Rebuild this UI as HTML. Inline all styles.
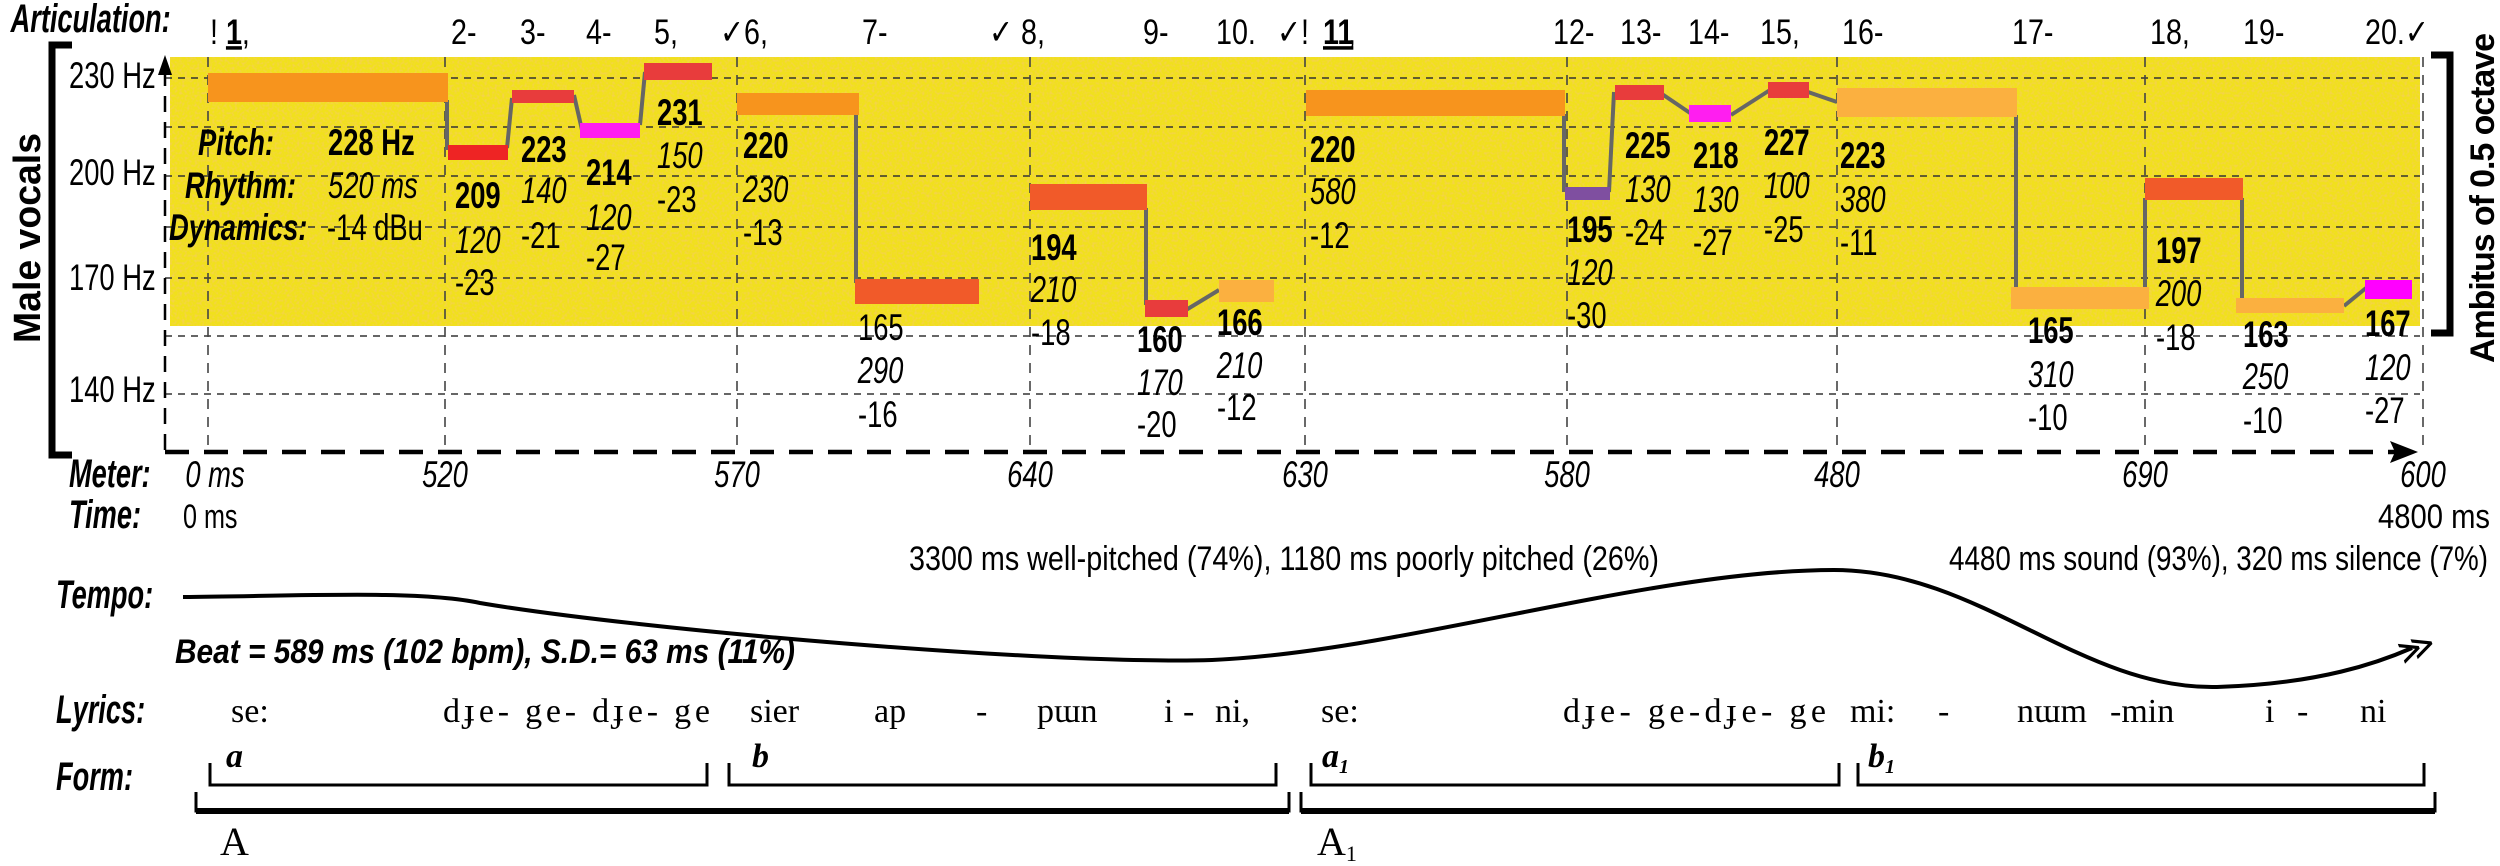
<!DOCTYPE html>
<html><head><meta charset="utf-8"><style>
html,body{margin:0;padding:0;background:#fff;}
svg{display:block;}
.n{font-family:"Liberation Sans Narrow","Liberation Sans",sans-serif;font-size:37px;fill:#000;}
.b{font-weight:bold;}
.i{font-style:italic;}
.a{font-family:"Liberation Sans",sans-serif;font-size:35px;fill:#000;}
.lab{font-family:"Liberation Sans Narrow","Liberation Sans",sans-serif;font-size:40px;font-weight:bold;font-style:italic;fill:#000;}
.s{font-family:"Liberation Serif",serif;font-size:34px;fill:#000;}
.c text,text.c{transform-box:fill-box;transform-origin:0 50%;transform:scaleX(0.74);}
text.lab.c{transform:scaleX(0.68);}
.cm text{transform-box:fill-box;transform-origin:50% 50%;transform:scaleX(0.74);}
.ca text{transform-box:fill-box;transform-origin:0 50%;transform:scaleX(0.82);}
</style></head><body>
<svg width="2500" height="866" viewBox="0 0 2500 866" xmlns="http://www.w3.org/2000/svg">
<defs>
<filter id="nz" x="0" y="0" width="100%" height="100%">
<feTurbulence type="fractalNoise" baseFrequency="0.4" numOctaves="1" seed="3" result="t"/>
<feColorMatrix in="t" type="matrix" values="0 0 0 0 0.93  0 0 0 0 0.6  0 0 0 0 0.15  0 0 0 3 -1.3"/>
</filter>
</defs>
<rect x="170" y="57" width="2250" height="269" fill="#f1e01c"/>
<rect x="170" y="57" width="2250" height="269" filter="url(#nz)" opacity="0.6"/>
<g stroke="#333" stroke-width="1.6" stroke-dasharray="7,6">
<line x1="165" y1="78" x2="2420" y2="78"/><line x1="165" y1="127" x2="2420" y2="127"/>
<line x1="165" y1="176" x2="2420" y2="176"/><line x1="165" y1="227" x2="2420" y2="227"/>
<line x1="165" y1="278" x2="2420" y2="278"/><line x1="165" y1="336" x2="2420" y2="336"/>
<line x1="165" y1="394" x2="2420" y2="394"/>
</g>
<g stroke="#444" stroke-width="1.6" stroke-dasharray="10,8">
<line x1="208" y1="57" x2="208" y2="450"/><line x1="445" y1="57" x2="445" y2="450"/>
<line x1="737" y1="57" x2="737" y2="450"/><line x1="1030" y1="57" x2="1030" y2="450"/>
<line x1="1305" y1="57" x2="1305" y2="450"/><line x1="1567" y1="57" x2="1567" y2="450"/>
<line x1="1837" y1="57" x2="1837" y2="450"/><line x1="2145" y1="57" x2="2145" y2="450"/>
<line x1="2423" y1="57" x2="2423" y2="450"/>
</g>
<line x1="165" y1="450" x2="165" y2="62" stroke="#000" stroke-width="2.5" stroke-dasharray="16,10"/>
<polygon points="165,55 158,75 172,75" fill="#000"/>
<line x1="165" y1="452" x2="2395" y2="452" stroke="#000" stroke-width="4.5" stroke-dasharray="24,15"/>
<polygon points="2418,452 2390,441 2395,452 2390,463" fill="#000"/>
<g stroke="#666" stroke-width="4" fill="none">
<polyline points="447,100 447,150"/><polyline points="507,148 512,98"/><polyline points="574,95 582,130"/>
<polyline points="640,125 645,72"/><polyline points="856,112 856,283"/><polyline points="1146,208 1146,305"/>
<polyline points="1186,310 1219,290"/><polyline points="1564,114 1564,192"/><polyline points="1609,192 1614,92"/>
<polyline points="1662,94 1693,115"/><polyline points="1731,115 1770,90"/><polyline points="1808,92 1837,102"/>
<polyline points="2016,115 2016,288"/><polyline points="2145,290 2145,198"/><polyline points="2242,198 2242,300"/>
<polyline points="2344,306 2366,288"/>
</g>
<rect x="208" y="73" width="240" height="29" fill="#f7941d"/>
<rect x="448" y="145" width="60" height="15" fill="#ee2424"/>
<rect x="512" y="90" width="62" height="13" fill="#e83c3c"/>
<rect x="580" y="123" width="60" height="15" fill="#ff1ef0"/>
<rect x="644" y="63" width="68" height="17" fill="#e83c3c"/>
<rect x="737" y="93" width="122" height="22" fill="#f7941d"/>
<rect x="855" y="279" width="124" height="25" fill="#f15a29"/>
<rect x="1030" y="184" width="117" height="26" fill="#f15a29"/>
<rect x="1145" y="300" width="43" height="17" fill="#e83c3c"/>
<rect x="1219" y="280" width="55" height="22" fill="#fbb040"/>
<rect x="1306" y="90" width="259" height="26" fill="#f7941d"/>
<rect x="1565" y="187" width="45" height="13" fill="#7f4fa0"/>
<rect x="1615" y="85" width="49" height="15" fill="#e83c3c"/>
<rect x="1689" y="105" width="42" height="17" fill="#ff1ef0"/>
<rect x="1768" y="82" width="41" height="16" fill="#e83c3c"/>
<rect x="1837" y="88" width="180" height="29" fill="#fbb040"/>
<rect x="2011" y="287" width="138" height="22" fill="#fbb040"/>
<rect x="2145" y="178" width="98" height="22" fill="#f15a29"/>
<rect x="2236" y="298" width="108" height="15" fill="#fbb040"/>
<rect x="2365" y="280" width="47" height="19" fill="#ff00ff"/>
<g class="n c"><text x="69" y="88">230 Hz</text><text x="69" y="185">200 Hz</text><text x="69" y="290">170 Hz</text><text x="69" y="402">140 Hz</text></g>
<path d="M72,45 H52 V455 H72" stroke="#000" stroke-width="7" fill="none"/>
<text x="0" y="0" transform="translate(40,238) rotate(-90)" text-anchor="middle" font-family="Liberation Sans,sans-serif" font-weight="bold" font-size="38" textLength="210" lengthAdjust="spacingAndGlyphs">Male vocals</text>
<path d="M2431,55 H2450 V333 H2431" stroke="#000" stroke-width="7" fill="none"/>
<text x="0" y="0" transform="translate(2494,198) rotate(-90)" text-anchor="middle" font-family="Liberation Sans,sans-serif" font-weight="bold" font-size="34" textLength="330" lengthAdjust="spacing">Ambitus  of  0.5  octave</text>
<text class="lab c" x="11" y="32">Articulation:</text>
<g class="a ca">
<text x="210" y="44">! <tspan font-weight="bold" text-decoration="underline">1</tspan>,</text>
<text x="451" y="44">2-</text><text x="520" y="44">3-</text><text x="586" y="44">4-</text><text x="654" y="44">5,</text>
<text x="720" y="44">✓6,</text><text x="862" y="44">7-</text><text x="989" y="44">✓ 8,</text><text x="1143" y="44">9-</text>
<text x="1216" y="44">10.</text><text x="1277" y="44">✓!</text><text x="1323" y="44" font-weight="bold" text-decoration="underline">11</text><text x="1348" y="44">,</text>
<text x="1553" y="44">12-</text><text x="1620" y="44">13-</text><text x="1688" y="44">14-</text><text x="1760" y="44">15,</text>
<text x="1842" y="44">16-</text><text x="2012" y="44">17-</text><text x="2150" y="44">18,</text><text x="2243" y="44">19-</text>
<text x="2365" y="44">20.✓</text>
</g>
<g class="n c">
<text class="b i" x="198" y="155">Pitch:</text><text class="b" x="328" y="155">228 Hz</text>
<text class="b i" x="185" y="198">Rhythm:</text><text class="i" x="328" y="198">520 ms</text>
<text class="b i" x="169" y="240">Dynamics:</text><text x="327" y="240">-14 dBu</text>
<text class="b" x="455" y="208">209</text><text class="i" x="455" y="253">120</text><text x="455" y="295">-23</text>
<text class="b" x="521" y="162">223</text><text class="i" x="521" y="203">140</text><text x="521" y="248">-21</text>
<text class="b" x="586" y="185">214</text><text class="i" x="586" y="230">120</text><text x="586" y="270">-27</text>
<text class="b" x="657" y="125">231</text><text class="i" x="657" y="168">150</text><text x="657" y="212">-23</text>
<text class="b" x="743" y="158">220</text><text class="i" x="743" y="202">230</text><text x="743" y="245">-13</text>
<text x="858" y="340">165</text><text class="i" x="858" y="383">290</text><text x="858" y="427">-16</text>
<text class="b" x="1031" y="260">194</text><text class="i" x="1031" y="302">210</text><text x="1031" y="345">-18</text>
<text class="b" x="1137" y="352">160</text><text class="i" x="1137" y="395">170</text><text x="1137" y="437">-20</text>
<text class="b" x="1217" y="335">166</text><text class="i" x="1217" y="378">210</text><text x="1217" y="420">-12</text>
<text class="b" x="1310" y="162">220</text><text class="i" x="1310" y="204">580</text><text x="1310" y="248">-12</text>
<text class="b" x="1567" y="242">195</text><text class="i" x="1567" y="285">120</text><text x="1567" y="328">-30</text>
<text class="b" x="1625" y="158">225</text><text class="i" x="1625" y="202">130</text><text x="1625" y="245">-24</text>
<text class="b" x="1693" y="168">218</text><text class="i" x="1693" y="212">130</text><text x="1693" y="255">-27</text>
<text class="b" x="1764" y="155">227</text><text class="i" x="1764" y="198">100</text><text x="1764" y="242">-25</text>
<text class="b" x="1840" y="168">223</text><text class="i" x="1840" y="212">380</text><text x="1840" y="255">-11</text>
<text class="b" x="2028" y="343">165</text><text class="i" x="2028" y="387">310</text><text x="2028" y="430">-10</text>
<text class="b" x="2156" y="263">197</text><text class="i" x="2156" y="306">200</text><text x="2156" y="350">-18</text>
<text class="b" x="2243" y="347">163</text><text class="i" x="2243" y="389">250</text><text x="2243" y="433">-10</text>
<text class="b" x="2365" y="336">167</text><text class="i" x="2365" y="380">120</text><text x="2365" y="423">-27</text>
</g>
<text class="lab c" x="69" y="487">Meter:</text>
<g class="n i cm" text-anchor="middle">
<text x="215" y="487">0 ms</text><text x="445" y="487">520</text><text x="737" y="487">570</text><text x="1030" y="487">640</text>
<text x="1305" y="487">630</text><text x="1567" y="487">580</text><text x="1837" y="487">480</text><text x="2145" y="487">690</text><text x="2423" y="487">600</text>
</g>
<text class="lab c" x="69" y="528">Time:</text>
<g class="n c">
<text x="183" y="528" style="font-size:34px">0 ms</text>
</g>
<g class="n">
<text x="2490" y="528" text-anchor="end" style="font-size:34px" textLength="112" lengthAdjust="spacingAndGlyphs">4800 ms</text>
<text x="909" y="570" style="font-size:34px" textLength="750" lengthAdjust="spacingAndGlyphs">3300 ms well-pitched (74%), 1180 ms poorly pitched (26%)</text>
<text x="1949" y="570" style="font-size:34px" textLength="539" lengthAdjust="spacingAndGlyphs">4480 ms sound (93%), 320 ms silence (7%)</text>
</g>
<text class="lab c" x="56" y="608">Tempo:</text>
<path d="M183,597 C300,596 420,590 480,603 C640,630 1050,665 1212,660 C1400,652 1650,570 1834,570 C1980,570 2080,690 2217,687 C2320,684 2380,662 2412,648" stroke="#000" stroke-width="4" fill="none"/>
<text x="2398" y="662" font-family="Liberation Sans,sans-serif" font-size="36" transform="rotate(-20 2410 650)">≫</text>
<text class="n b i" x="175" y="663" style="font-size:34px" textLength="620" lengthAdjust="spacingAndGlyphs">Beat = 589 ms (102 bpm), S.D.= 63 ms (11%)</text>
<text class="lab c" x="56" y="723">Lyrics:</text>
<g class="s">
<text x="231" y="722">se:</text><text x="443" y="722" textLength="267" lengthAdjust="spacing">dɟe- ge- dɟe- ge</text>
<text x="750" y="722">sier</text><text x="874" y="722">ap</text><text x="976" y="722">-</text><text x="1037" y="722">pɯn</text>
<text x="1164" y="722">i</text><text x="1183" y="722">-</text><text x="1215" y="722">ni,</text>
<text x="1321" y="722">se:</text><text x="1563" y="722" textLength="263" lengthAdjust="spacing">dɟe- ge-dɟe- ge</text>
<text x="1850" y="722">mi:</text><text x="1938" y="722">-</text><text x="2017" y="722">nɯm</text><text x="2110" y="722">-min</text>
<text x="2265" y="722">i</text><text x="2297" y="722">-</text><text x="2360" y="722">ni</text>
</g>
<text class="lab c" x="56" y="790">Form:</text>
<g stroke="#000" fill="none">
<path d="M210,763 V785 H707 V763" stroke-width="3"/>
<path d="M729,763 V785 H1276 V763" stroke-width="3"/>
<path d="M1311,763 V785 H1839 V763" stroke-width="3"/>
<path d="M1858,763 V785 H2424 V763" stroke-width="3"/>
<path d="M196,792 V811 H1289 V792" stroke-width="3"/>
<line x1="196" y1="811" x2="1289" y2="811" stroke-width="6"/>
<path d="M1301,792 V811 H2435 V792" stroke-width="3"/>
<line x1="1301" y1="811" x2="2435" y2="811" stroke-width="6"/>
</g>
<g class="s" font-weight="bold" font-style="italic">
<text x="226" y="767">a</text><text x="752" y="767">b</text>
<text x="1322" y="767">a<tspan font-size="20" dy="6">1</tspan></text>
<text x="1868" y="767">b<tspan font-size="20" dy="6">1</tspan></text>
</g>
<g class="s" style="font-size:40px">
<text x="220" y="855">A</text><text x="1317" y="855">A<tspan font-size="22" dy="6">1</tspan></text>
</g>
</svg>
</body></html>
